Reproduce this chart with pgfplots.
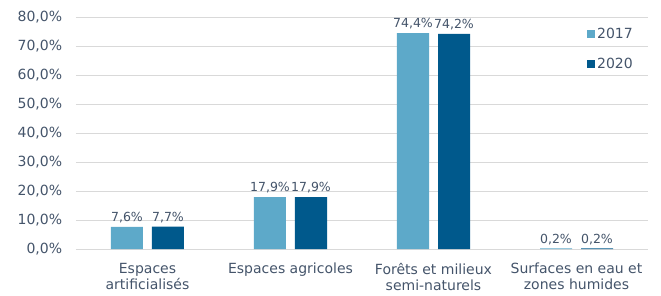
\documentclass[border=0pt]{standalone}
\usepackage{fontspec}
\setmainfont{DejaVu Sans}
\usepackage{pgfplots}
\pgfplotsset{compat=1.18}
\definecolor{c17}{HTML}{5DA9C9}
\definecolor{c20}{HTML}{00598C}
\definecolor{txt}{HTML}{44546A}
\definecolor{grd}{HTML}{D9D9D9}
\newcommand{\lblfont}{\fontsize{14bp}{16bp}\selectfont}
\newcommand{\datafont}{\fontsize{12.5bp}{14bp}\selectfont}
\begin{document}
\lblfont
\begin{tikzpicture}
\useasboundingbox (-76bp,-47bp) rectangle (585bp,249bp);
\begin{axis}[
 at={(0,0)}, anchor=south west,
 scale only axis, width=572bp, height=232bp,
 ybar=9bp, bar width=32bp,
 xmin=-0.5, xmax=3.5, ymin=0, ymax=80,
 ytick={0,10,...,80},
 xtick={0,1,2,3},
 xticklabels={{Espaces\\artificialisés},{Espaces agricoles},{Forêts et milieux\\semi-naturels},{Surfaces en eau et\\zones humides}},
 /pgf/number format/assume math mode=true,
 tick label style={text=txt, font=\lblfont},
 xticklabel style={align=center, yshift=-5bp},
 yticklabel style={xshift=-9bp},
 yticklabel={\pgfmathprintnumber[fixed,fixed zerofill,precision=1,use comma]{\tick}\%},
 axis line style={draw=none},
 tick style={draw=none},
 ymajorgrids,
 grid style={draw=grd, line width=1bp},
 nodes near coords={\pgfmathprintnumber[fixed,fixed zerofill,precision=1,use comma]{\pgfplotspointmeta}\%},
 nodes near coords style={text=txt, font=\datafont, yshift=-1bp},
 legend style={at={(0.888,0.97)}, anchor=north west, draw=none, fill=none, text=txt, font=\lblfont, row sep=13bp},
 legend cell align=left,
]
\addplot[fill=c17, draw=none, legend image code/.code={\fill[c17] (0bp,-4bp) rectangle (8bp,4bp);}]
 coordinates {(0,7.6) (1,17.9) (2,74.4) (3,0.2)};
\addplot[fill=c20, draw=none, legend image code/.code={\fill[c20] (0bp,-4bp) rectangle (8bp,4bp);}]
 coordinates {(0,7.7) (1,17.9) (2,74.2) (3,0.2)};
\legend{2017,2020}
\end{axis}
\end{tikzpicture}
\end{document}
